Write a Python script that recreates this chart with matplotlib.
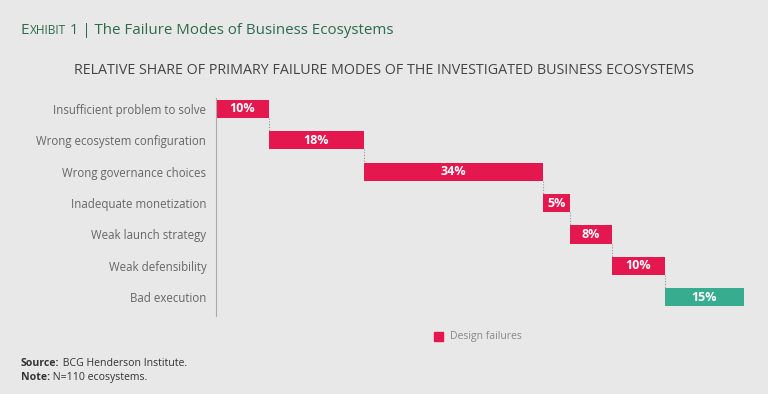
import numpy as np
import matplotlib.pyplot as plt

categories = ["Insufficient problem to solve", "Wrong ecosystem configuration",
              "Wrong governance choices", "Inadequate monetization",
              "Weak launch strategy", "Weak defensibility", "Bad execution"]
shares = [10, 18, 34, 5, 8, 10, 15]
groups = ["design", "design", "design", "design", "design", "design", "execution"]

pink = "#E5174F"
green = "#38AC8E"
bg = "#E8E8E8"
colors = {"design": pink, "execution": green}

plt.rcParams["font.family"] = ["Open Sans", "DejaVu Sans"]

fig = plt.figure(figsize=(7.68, 3.94), dpi=100, facecolor=bg)
ax = fig.add_axes([216 / 768, 1 - 316 / 394, 528 / 768, 218 / 394])
ax.set_facecolor(bg)

starts = np.concatenate([[0], np.cumsum(shares)[:-1]])
ypos = np.arange(len(categories))
bar_h = 0.58

for y, s, v, g in zip(ypos, starts, shares, groups):
    ax.barh(y, v, left=s, height=bar_h, color=colors[g], edgecolor="none")
    ax.text(s + v / 2, y, f"{v}%", ha="center", va="center",
            color="white", fontsize=9, fontweight="bold")

# dotted connectors between steps
for i in range(len(shares) - 1):
    x = starts[i] + shares[i]
    ax.plot([x, x], [ypos[i] + bar_h / 2, ypos[i + 1] - bar_h / 2],
            color="#9a9a9a", lw=0.8, ls=(0, (1, 1.5)))

ax.set_xlim(0, 100)
ax.set_ylim(6.6, -0.35)
ax.set_yticks(ypos)
ax.set_yticklabels(categories, fontsize=8.3, color="#666666")
ax.tick_params(axis="y", length=0, pad=7)
ax.set_xticks([])
for side in ["top", "right", "bottom"]:
    ax.spines[side].set_visible(False)
ax.spines["left"].set_color("#aaaaaa")
ax.spines["left"].set_linewidth(0.8)

r = fig.canvas.get_renderer()


def run_text(x0, y, parts, va="baseline"):
    # draw consecutive pieces of text on one line
    for txt, fs, fw, col in parts:
        t = fig.text(x0, y, txt, fontsize=fs, fontweight=fw, color=col,
                     ha="left", va=va)
        bb = t.get_window_extent(renderer=r)
        x0 += bb.width / fig.bbox.width


# title with small caps "Exhibit"
title_color = "#2D6A4F"
run_text(21 / 768, 1 - 34 / 394,
         [("E", 11, "normal", title_color), ("XHIBIT", 8.6, "normal", title_color),
          (" 1 | The Failure Modes of Business Ecosystems", 10.9, "normal", title_color)])

fig.text(384 / 768, 1 - 71 / 394,
         "RELATIVE SHARE OF PRIMARY FAILURE MODES OF THE INVESTIGATED BUSINESS ECOSYSTEMS",
         ha="center", va="center", fontsize=10.3, color="#444444")

# legend
fig.patches.append(plt.Rectangle((434 / 768, 1 - 341 / 394), 9 / 768, 9 / 394,
                                 transform=fig.transFigure, color=pink))
fig.text(450 / 768, 1 - 336 / 394, "Design failures", fontsize=7.5,
         color="#888888", va="center", ha="left")

# footnotes
fn = "#333333"
run_text(21 / 768, 1 - 366 / 394,
         [("Source:", 7.6, "bold", fn), (" BCG Henderson Institute.", 7.6, "normal", fn)])
run_text(21 / 768, 1 - 380 / 394,
         [("Note:", 7.6, "bold", fn), (" N=110 ecosystems.", 7.6, "normal", fn)])

fig.savefig("out.png", dpi=100, facecolor=bg)
